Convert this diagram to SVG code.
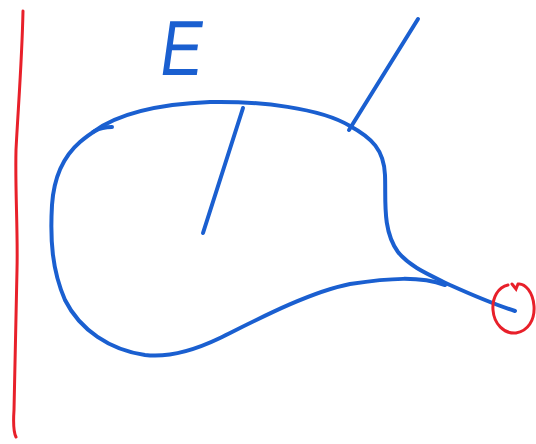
<svg xmlns="http://www.w3.org/2000/svg" width="536" height="444" viewBox="0 0 536 444">
<style>
.b{fill:none;stroke:#1a5fd0;stroke-width:4;stroke-linecap:round;stroke-linejoin:round}
.r{fill:none;stroke:#e8202a;stroke-width:3;stroke-linecap:round}
.t{font-family:"Liberation Sans",Arial,sans-serif;font-size:78px;fill:#1a5fd0}
</style>
<rect width="536" height="444" fill="#fff"/>
<path class="r" d="M23,11 C22,60 18,110 16,150 C15,190 18,230 17,270 C16,320 15,370 14,410 C13,425 14,433 16,437"/>
<path class="b" d="M93,132 C120,112 160,104 210,102 C260,101 320,108 350,126 C372,138 384,150 385,175 C386,200 382,230 398,252 C410,267 430,275 450,285 C470,294 490,303 515,311"/>
<path class="b" d="M445,285 C420,276 390,278 350,284 C310,292 260,318 220,338 C195,350 170,358 145,355 C110,350 80,330 65,300 C52,270 50,240 52,205 C54,175 65,155 80,142 C86,137 90,134 95,131 C100,128 106,127 112,127"/>
<path class="b" d="M243,108 L203,233"/>
<path class="b" d="M349,130 L418,19"/>
<text class="t" x="158" y="75" transform="skewX(-8) translate(10,0)" textLength="42" lengthAdjust="spacingAndGlyphs">E</text>
<path class="r" d="M508,285 C498,287 492,298 493,310 C494,324 504,334 516,333 C528,331 535,320 534,306 C533,292 525,283 518,284 L516,289 L512,284"/>
</svg>
